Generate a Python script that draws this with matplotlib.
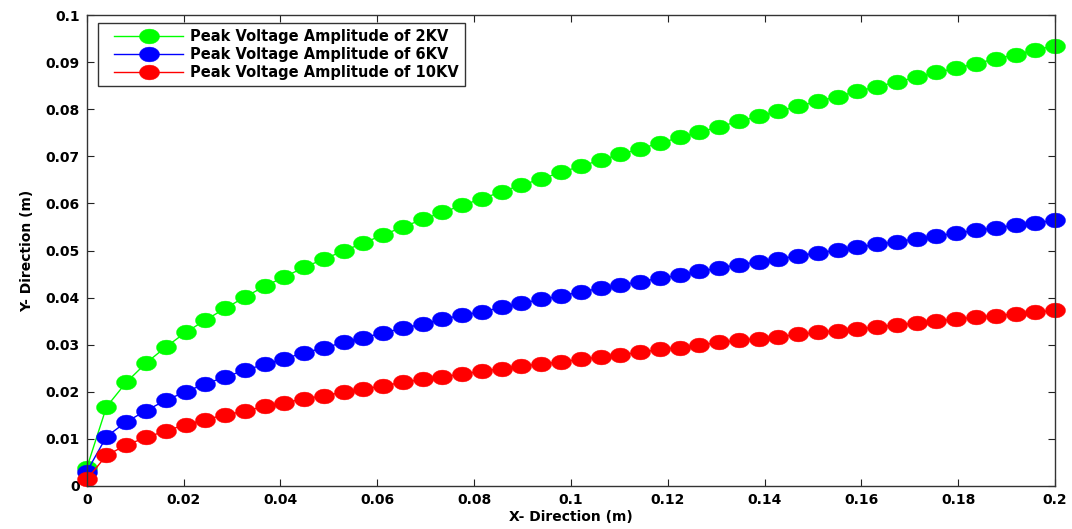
import numpy as np
import matplotlib
matplotlib.use('Agg')
import matplotlib.pyplot as plt
from matplotlib.path import Path
from matplotlib.ticker import FormatStrFormatter
from matplotlib.legend_handler import HandlerLine2D

# x positions: 50 samples from 0 to 0.2 m
x = np.linspace(0, 0.2, 50)

y_2kv = [0.0038, 0.0168, 0.0220, 0.0261, 0.0295, 0.0326, 0.0352, 0.0377, 0.0401, 0.0424,
         0.0444, 0.0464, 0.0482, 0.0499, 0.0516, 0.0533, 0.0550, 0.0566, 0.0581, 0.0596,
         0.0610, 0.0625, 0.0639, 0.0652, 0.0666, 0.0679, 0.0692, 0.0704, 0.0716, 0.0728,
         0.0740, 0.0751, 0.0763, 0.0774, 0.0785, 0.0796, 0.0806, 0.0817, 0.0827, 0.0838,
         0.0848, 0.0858, 0.0868, 0.0878, 0.0887, 0.0897, 0.0907, 0.0916, 0.0926, 0.0935]

y_6kv = [0.0030, 0.0105, 0.0136, 0.0160, 0.0182, 0.0200, 0.0217, 0.0231, 0.0246, 0.0258,
         0.0270, 0.0283, 0.0293, 0.0305, 0.0315, 0.0325, 0.0335, 0.0344, 0.0354, 0.0363,
         0.0370, 0.0379, 0.0388, 0.0396, 0.0404, 0.0412, 0.0420, 0.0427, 0.0434, 0.0441,
         0.0448, 0.0456, 0.0463, 0.0470, 0.0476, 0.0482, 0.0489, 0.0495, 0.0501, 0.0507,
         0.0513, 0.0519, 0.0525, 0.0531, 0.0537, 0.0543, 0.0548, 0.0554, 0.0559, 0.0564]

y_10kv = [0.0014, 0.0065, 0.0087, 0.0103, 0.0117, 0.0130, 0.0141, 0.0151, 0.0159, 0.0169,
          0.0177, 0.0185, 0.0192, 0.0199, 0.0206, 0.0213, 0.0220, 0.0227, 0.0232, 0.0238,
          0.0244, 0.0249, 0.0255, 0.0259, 0.0264, 0.0269, 0.0274, 0.0279, 0.0284, 0.0290,
          0.0294, 0.0299, 0.0305, 0.0309, 0.0313, 0.0317, 0.0322, 0.0326, 0.0330, 0.0333,
          0.0338, 0.0342, 0.0346, 0.0350, 0.0355, 0.0358, 0.0362, 0.0365, 0.0369, 0.0373]

labels = ['Peak Voltage Amplitude of 2KV',
          'Peak Voltage Amplitude of 6KV',
          'Peak Voltage Amplitude of 10KV']
colors = ['#00ff00', '#0000ff', '#ff0000']

plt.rcParams['font.family'] = ['DejaVu Sans']
plt.rcParams['font.weight'] = 'bold'

# markers in the original are flattened ellipses
t = np.linspace(0, 2 * np.pi, 64)
ellipse = Path(np.column_stack([1.35 * np.cos(t), np.sin(t)]), closed=True)

fig = plt.figure(figsize=(10.72, 5.29), dpi=100)
ax = fig.add_axes([0.0809, 0.0813, 0.9033, 0.8903])

for ys, c, lab in zip([y_2kv, y_6kv, y_10kv], colors, labels):
    ax.plot(x, ys, color=c, lw=1.0, marker=ellipse, markersize=14.4,
            markerfacecolor=c, markeredgecolor=c, markeredgewidth=0.3, label=lab,
            clip_on=False)

ax.set_xlim(0, 0.2)
ax.set_ylim(0, 0.1)
ax.set_xticks(np.arange(0, 0.2001, 0.02))
ax.set_yticks(np.arange(0, 0.1001, 0.01))
ax.xaxis.set_major_formatter(FormatStrFormatter('%g'))
ax.yaxis.set_major_formatter(FormatStrFormatter('%g'))
ax.tick_params(direction='in', length=5, width=0.8, top=True, right=True,
               labelsize=10, pad=5, colors='#222222', labelcolor='black')
for s in ax.spines.values():
    s.set_linewidth(1.0)
    s.set_color('#333333')

ax.set_xlabel('X- Direction (m)', fontsize=10, fontweight='bold', labelpad=2)
ax.set_ylabel('Y- Direction (m)', fontsize=10, fontweight='bold', labelpad=8)

leg = ax.legend(loc='upper left', bbox_to_anchor=(0.012, 0.983), numpoints=1,
                fontsize=10.5, handlelength=5.4, handletextpad=0.5,
                borderpad=0.4, labelspacing=0.2, fancybox=False,
                framealpha=1, edgecolor='#333333', borderaxespad=0,
                handler_map={plt.Line2D: HandlerLine2D(numpoints=1, xpad=0.7)})
leg.get_frame().set_linewidth(1.0)

fig.savefig('out.png', dpi=100)
